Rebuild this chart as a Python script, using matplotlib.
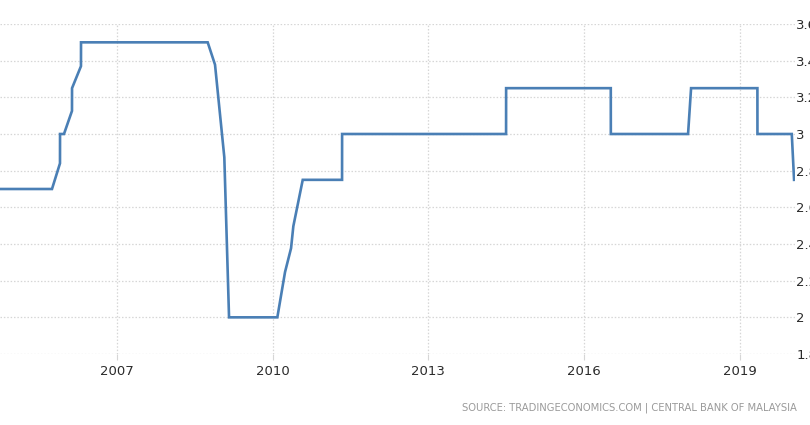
import matplotlib.pyplot as plt
from matplotlib.ticker import FuncFormatter

# decimal years and rates (vertices of the line)
years = [2004.70, 2005.754, 2005.908, 2005.909, 2005.985, 2006.139, 2006.140,
         2006.312, 2006.313, 2008.752, 2008.893, 2009.072, 2009.163, 2010.093,
         2010.241, 2010.357, 2010.401, 2010.582, 2011.339, 2011.340, 2014.497,
         2014.498, 2016.513, 2016.514, 2018.001, 2018.059, 2019.336, 2019.337,
         2019.998, 2020.042]
rates = [2.70, 2.70, 2.84, 3.00, 3.00, 3.126, 3.25,
         3.37, 3.50, 3.50, 3.378, 2.873, 2.00, 2.00,
         2.247, 2.377, 2.497, 2.75, 2.75, 3.00, 3.00,
         3.25, 3.25, 3.00, 3.00, 3.25, 3.25, 3.00,
         3.00, 2.75]

x_ticks = [2007, 2010, 2013, 2016, 2019]
y_ticks = [1.8, 2.0, 2.2, 2.4, 2.6, 2.8, 3.0, 3.2, 3.4, 3.6]
source = 'SOURCE: TRADINGECONOMICS.COM | CENTRAL BANK OF MALAYSIA'

fig = plt.figure(figsize=(8.1, 4.25), dpi=100)
ax = fig.add_axes([0.0, 71 / 425, 795 / 810, 330 / 425])

ax.plot(years, rates, color='#4a7fb5', linewidth=1.9, solid_joinstyle='miter')

ax.set_xlim(2004.753, 2020.06)
ax.set_ylim(1.8, 3.6)
ax.set_xticks(x_ticks)
ax.set_yticks(y_ticks)
ax.yaxis.set_major_formatter(FuncFormatter(lambda v, _: '{:g}'.format(round(v, 2))))
ax.yaxis.tick_right()

for s in ax.spines.values():
    s.set_visible(False)

ax.grid(True, color='#d6d6d6', linestyle=(0, (1.2, 1.5)), linewidth=0.9)
ax.tick_params(axis='x', length=4, color='#d6d6d6', labelsize=9.5,
               labelcolor='#2b2b2b', pad=4)
ax.tick_params(axis='y', length=0, labelsize=9.5, labelcolor='#2b2b2b', pad=1)

fig.text(797 / 810, 1 - 408 / 425, source, ha='right', va='center',
         fontsize=7.2, color='#9a9a9a')

fig.savefig('out.png', dpi=100)
